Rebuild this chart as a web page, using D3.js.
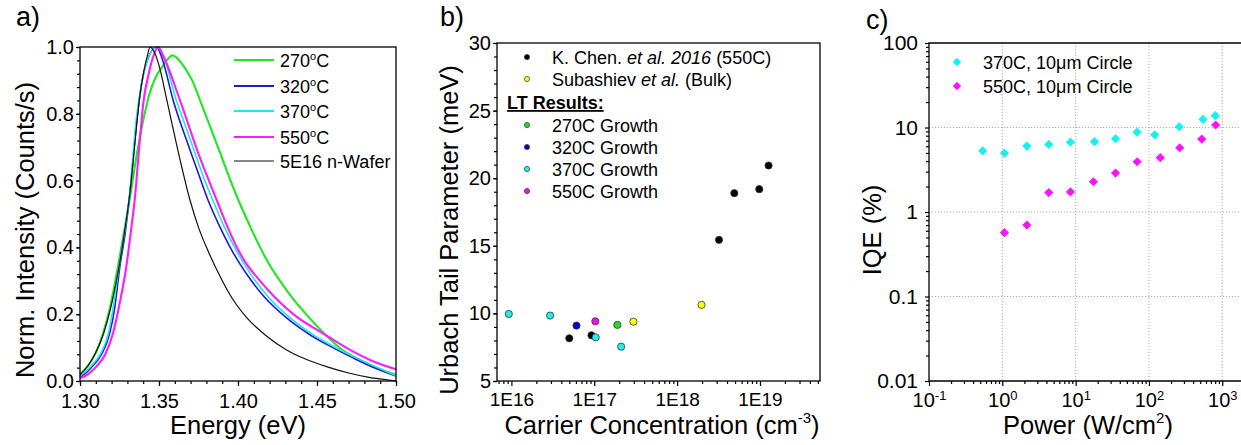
<!DOCTYPE html>
<html>
<head>
<meta charset="utf-8">
<script src="https://cdn.jsdelivr.net/npm/d3@7"></script>
<style>
  body { margin: 0; background: #fff; }
  svg { display: block; font-family: "Liberation Sans", Arial, sans-serif; }
  .frame { fill: none; stroke: #000; stroke-width: 1.3; }
  .axis path { display: none; }
  .axis line { stroke: #000; stroke-width: 1.2; }
  .axis text { fill: #000; font-family: "Liberation Sans", Arial, sans-serif; }
  .grid line { stroke: #999; stroke-width: 0.8; stroke-dasharray: 1.2,1.8; }
</style>
</head>
<body>
<svg id="chart" width="1241" height="445"></svg>
<script>
// ---------- panel a: normalised PL spectra [energy eV, intensity] ----------
var pl270 = [[1.300,0.02],[1.305,0.045],[1.310,0.085],[1.3146,0.143],[1.319,0.22],[1.324,0.342],[1.328,0.45],[1.332,0.56],[1.336,0.68],[1.340,0.78],[1.344,0.86],[1.348,0.91],[1.352,0.94],[1.3585,0.975],[1.366,0.94],[1.371,0.90],[1.376,0.84],[1.3873,0.70],[1.4002,0.542],[1.407,0.47],[1.414,0.40],[1.4203,0.345],[1.428,0.29],[1.435,0.245],[1.444,0.195],[1.455,0.14],[1.466,0.093],[1.480,0.057],[1.490,0.035],[1.500,0.019]];
var pl320 = [[1.300,0.012],[1.304,0.025],[1.308,0.045],[1.3134,0.078],[1.3188,0.143],[1.322,0.22],[1.3252,0.342],[1.3285,0.44],[1.3315,0.56],[1.336,0.78],[1.339,0.89],[1.343,0.965],[1.3485,1.00],[1.352,0.965],[1.359,0.84],[1.369,0.70],[1.3765,0.60],[1.381,0.542],[1.3887,0.46],[1.396,0.392],[1.4013,0.35],[1.4085,0.30],[1.417,0.25],[1.4298,0.1926],[1.445,0.14],[1.460,0.10],[1.4725,0.07],[1.485,0.042],[1.500,0.015]];
var pl370 = [[1.300,0.015],[1.304,0.03],[1.308,0.05],[1.3134,0.085],[1.318,0.143],[1.321,0.22],[1.3247,0.342],[1.328,0.44],[1.3315,0.56],[1.3355,0.78],[1.339,0.89],[1.343,0.965],[1.349,1.00],[1.353,0.97],[1.361,0.84],[1.364,0.80],[1.3715,0.70],[1.379,0.60],[1.384,0.542],[1.3915,0.46],[1.399,0.39],[1.404,0.35],[1.411,0.30],[1.4195,0.25],[1.432,0.1926],[1.447,0.14],[1.462,0.10],[1.4745,0.07],[1.487,0.043],[1.500,0.016]];
var pl550 = [[1.300,0.008],[1.305,0.02],[1.3103,0.043],[1.316,0.08],[1.3209,0.143],[1.325,0.23],[1.3293,0.342],[1.332,0.44],[1.3346,0.542],[1.3375,0.70],[1.340,0.83],[1.3435,0.92],[1.347,0.98],[1.3495,1.00],[1.353,0.97],[1.3633,0.84],[1.375,0.68],[1.3865,0.542],[1.3935,0.46],[1.4002,0.392],[1.4055,0.35],[1.413,0.305],[1.4234,0.25],[1.437,0.1926],[1.453,0.145],[1.4709,0.093],[1.485,0.06],[1.500,0.035]];
var plWafer = [[1.300,0.018],[1.305,0.045],[1.310,0.085],[1.315,0.143],[1.320,0.23],[1.3247,0.342],[1.328,0.44],[1.3315,0.56],[1.3345,0.70],[1.3375,0.84],[1.3405,0.93],[1.343,0.98],[1.3443,1.00],[1.347,0.985],[1.350,0.945],[1.355,0.84],[1.362,0.69],[1.3696,0.542],[1.375,0.46],[1.381,0.39],[1.389,0.31],[1.397,0.2425],[1.4055,0.19],[1.418,0.135],[1.4308,0.093],[1.443,0.065],[1.456,0.043],[1.470,0.024],[1.483,0.011],[1.4935,0.004],[1.500,0.0]];
var aNames = ["270", "320", "370", "550", "5E16 n-Wafer"];
var aColors = ["#1ee81e", "#1a1ae0", "#22e6e6", "#ff1aff", "#111111"];
var aXTicks = [1.30, 1.35, 1.40, 1.45, 1.50];
var aYTicks = [0, 0.2, 0.4, 0.6, 0.8, 1.0];

// ---------- panel b: Urbach tail vs carrier concentration ----------
var chenX = [5.0e16, 9.25e16, 3.2e18, 4.9e18, 9.8e18, 1.27e19];
var chenY = [8.16, 8.38, 15.44, 18.89, 19.19, 20.94];
var subX = [2.97e17, 1.97e18];
var subY = [9.39, 10.63];
var g270X = [1.9e17];           var g270Y = [9.15];
var g320X = [6.1e16];           var g320Y = [9.10];
var g370X = [9.3e15, 2.93e16, 1.04e17, 2.11e17];
var g370Y = [9.96, 9.84, 8.23, 7.54];
var g550X = [1.03e17];          var g550Y = [9.42];
var bXTicks = [1e16, 1e17, 1e18, 1e19];
var bYTicks = [5, 10, 15, 20, 25, 30];

// ---------- panel c: IQE vs power ----------
var iqe370P = [0.54, 1.07, 2.16, 4.3, 8.5, 18.1, 35, 69, 120, 259, 546, 803];
var iqe370V = [5.3, 4.98, 6.03, 6.3, 6.7, 6.8, 7.36, 8.8, 8.2, 10.2, 12.5, 13.8];
var iqe550P = [1.07, 2.16, 4.3, 8.5, 17.5, 35, 69, 143, 263, 525, 813];
var iqe550V = [0.57, 0.70, 1.70, 1.73, 2.28, 2.89, 3.93, 4.39, 5.76, 7.29, 10.7];
var cXTicks = [0.1, 1, 10, 100, 1000];
var cYTicks = [0.01, 0.1, 1, 10, 100];
var cYLabels = ["0.01", "0.1", "1", "10", "100"];

var svg = d3.select("#chart");

function frame(x0, x1, y0, y1) {
  svg.append("rect").attr("class", "frame")
    .attr("x", x0).attr("y", y0).attr("width", x1 - x0).attr("height", y1 - y0);
}

function minorLog(lo, hi) {
  var out = [];
  for (var e = lo; e < hi; e++)
    for (var m = 2; m <= 9; m++) out.push(m * Math.pow(10, e));
  return out;
}

function axisTitleX(x, y, txt, sup) {
  var t = svg.append("text").attr("x", x).attr("y", y).attr("text-anchor", "middle")
    .attr("font-size", 25.5).text(txt);
  if (sup) {
    t.append("tspan").attr("dy", -11).attr("font-size", 15).text(sup);
    t.append("tspan").attr("dy", 11).text(")");
  }
}
function axisTitleY(x, y, txt) {
  svg.append("text").attr("transform", "translate(" + x + "," + y + ") rotate(-90)")
    .attr("text-anchor", "middle").attr("dy", "0.35em").attr("font-size", 25.5).text(txt);
}

// ================= panel a =================
var xA = d3.scaleLinear().domain([1.30, 1.50]).range([80, 396]);
var yA = d3.scaleLinear().domain([0, 1]).range([381, 47]);

svg.append("g").attr("class", "axis").attr("transform", "translate(0,381)")
  .call(d3.axisBottom(xA).tickValues(d3.range(1.30, 1.5001, 0.01)).tickSize(3).tickFormat(""));
svg.append("g").attr("class", "axis").attr("transform", "translate(0,381)")
  .call(d3.axisBottom(xA).tickValues(aXTicks).tickSize(5).tickPadding(8).tickFormat(d3.format(".2f")))
  .selectAll("text").attr("font-size", 20);
svg.append("g").attr("class", "axis").attr("transform", "translate(80,0)")
  .call(d3.axisLeft(yA).tickValues(d3.range(0, 1.0001, 0.04)).tickSize(3).tickFormat(""));
svg.append("g").attr("class", "axis").attr("transform", "translate(80,0)")
  .call(d3.axisLeft(yA).tickValues(aYTicks).tickSize(4).tickPadding(2).tickFormat(d3.format(".1f")))
  .selectAll("text").attr("font-size", 20);

var lineA = d3.line().x(function(d) { return xA(d[0]); }).y(function(d) { return yA(d[1]); })
  .curve(d3.curveMonotoneX);
var aSeries = [pl270, pl320, pl370, pl550, plWafer];
var aWidths = [2.1, 1.6, 1.6, 2.1, 1.2];
aSeries.forEach(function(s, i) {
  svg.append("path").datum(s).attr("d", lineA).attr("fill", "none")
    .attr("stroke", aColors[i]).attr("stroke-width", aWidths[i]);
});
frame(80, 396, 47, 381);

// legend a
var aLegY = [60, 86, 111, 137, 161];
aNames.forEach(function(n, i) {
  svg.append("line").attr("x1", 234).attr("x2", 274).attr("y1", aLegY[i]).attr("y2", aLegY[i])
    .attr("stroke", aColors[i]).attr("stroke-width", i == 4 ? 1.2 : 1.8);
  var t = svg.append("text").attr("x", 280).attr("y", aLegY[i] + 6.5).attr("font-size", 18);
  if (i < 4) {
    t.text(n);
    t.append("tspan").attr("dy", -7).attr("font-size", 11).text("o");
    t.append("tspan").attr("dy", 7).text("C");
  } else t.text(n);
});

axisTitleX(238, 434, "Energy (eV)");
axisTitleY(25, 230, "Norm. Intensity (Counts/s)");
svg.append("text").attr("x", 16).attr("y", 26).attr("font-size", 27).text("a)");

// ================= panel b =================
var xB = d3.scaleLog().domain([6.7e15, 5.3e19]).range([497, 820]);
var yB = d3.scaleLinear().domain([5, 30]).range([381, 43]);

svg.append("g").attr("class", "axis").attr("transform", "translate(0,381)")
  .call(d3.axisBottom(xB).tickValues(minorLog(15, 20).filter(function(v) { return v >= 6.7e15 && v <= 5.3e19; }))
    .tickSize(3).tickFormat(""));
svg.append("g").attr("class", "axis").attr("transform", "translate(0,381)")
  .call(d3.axisBottom(xB).tickValues(bXTicks).tickSize(5).tickPadding(7)
    .tickFormat(function(d) { return "1E" + Math.round(Math.log10(d)); }))
  .selectAll("text").attr("font-size", 19);
svg.append("g").attr("class", "axis").attr("transform", "translate(497,0)")
  .call(d3.axisLeft(yB).tickValues(d3.range(5, 30.001, 1)).tickSize(3).tickFormat(""));
svg.append("g").attr("class", "axis").attr("transform", "translate(497,0)")
  .call(d3.axisLeft(yB).tickValues(bYTicks).tickSize(4).tickPadding(2))
  .selectAll("text").attr("font-size", 20);

var bGroups = [
  { x: chenX, y: chenY, c: "#000000" },
  { x: subX, y: subY, c: "#ffff00" },
  { x: g270X, y: g270Y, c: "#22dd22" },
  { x: g320X, y: g320Y, c: "#0000dd" },
  { x: g370X, y: g370Y, c: "#22eeee" },
  { x: g550X, y: g550Y, c: "#ee11ee" }
];
bGroups.forEach(function(g) {
  svg.append("g").selectAll("circle").data(g.x).enter().append("circle")
    .attr("cx", function(d) { return xB(d); })
    .attr("cy", function(d, i) { return yB(g.y[i]); })
    .attr("r", 3.6).attr("fill", g.c).attr("stroke", "#333").attr("stroke-width", 0.8);
});
frame(497, 820, 43, 381);

// legend b
var bLeg = [
  { y: 57, c: "#000000", parts: [["K. Chen. ", 0], ["et al. 2016", 1], [" (550C)", 0]] },
  { y: 79, c: "#ffff00", parts: [["Subashiev ", 0], ["et al.", 1], [" (Bulk)", 0]] },
  { y: 125, c: "#22dd22", parts: [["270C Growth", 0]] },
  { y: 147, c: "#0000dd", parts: [["320C Growth", 0]] },
  { y: 169, c: "#22eeee", parts: [["370C Growth", 0]] },
  { y: 191, c: "#ee11ee", parts: [["550C Growth", 0]] }
];
bLeg.forEach(function(r) {
  svg.append("circle").attr("cx", 527).attr("cy", r.y).attr("r", 2.6)
    .attr("fill", r.c).attr("stroke", "#333").attr("stroke-width", 0.7);
  var t = svg.append("text").attr("x", 552).attr("y", r.y + 6.5).attr("font-size", 18);
  r.parts.forEach(function(p) {
    t.append("tspan").attr("font-style", p[1] ? "italic" : "normal").text(p[0]);
  });
});
svg.append("text").attr("x", 507).attr("y", 109).attr("font-size", 18).attr("font-weight", "bold")
  .attr("text-decoration", "underline").text("LT Results:");

axisTitleX(662, 434, "Carrier Concentration (cm", "-3");
axisTitleY(449, 230, "Urbach Tail Parameter (meV)");
svg.append("text").attr("x", 440).attr("y", 26).attr("font-size", 27).text("b)");

// ================= panel c =================
var xC = d3.scaleLog().domain([0.1, Math.pow(10, 3.31)]).range([929, 1245]);
var yC = d3.scaleLog().domain([0.01, 100]).range([381, 43]);

svg.append("g").attr("class", "grid").selectAll("line").data(cXTicks.slice(1)).enter().append("line")
  .attr("x1", function(d) { return xC(d); }).attr("x2", function(d) { return xC(d); })
  .attr("y1", 43).attr("y2", 381);
svg.append("g").attr("class", "grid").selectAll("line").data(cYTicks.slice(1, 4)).enter().append("line")
  .attr("y1", function(d) { return yC(d); }).attr("y2", function(d) { return yC(d); })
  .attr("x1", 929).attr("x2", 1245);

svg.append("g").attr("class", "axis").attr("transform", "translate(0,381)")
  .call(d3.axisBottom(xC).tickValues(minorLog(-1, 4).filter(function(v) { return v <= 2000; }))
    .tickSize(3).tickFormat(""));
var cxAxis = svg.append("g").attr("class", "axis").attr("transform", "translate(0,381)")
  .call(d3.axisBottom(xC).tickValues(cXTicks).tickSize(5).tickPadding(7));
cxAxis.selectAll("text").attr("font-size", 20).each(function(d) {
  var t = d3.select(this);
  t.text("10");
  t.append("tspan").attr("dy", "-0.55em").attr("font-size", 13).text(Math.round(Math.log10(d)));
});
svg.append("g").attr("class", "axis").attr("transform", "translate(929,0)")
  .call(d3.axisLeft(yC).tickValues(minorLog(-2, 2)).tickSize(3).tickFormat(""));
svg.append("g").attr("class", "axis").attr("transform", "translate(929,0)")
  .call(d3.axisLeft(yC).tickValues(cYTicks).tickSize(4).tickPadding(7)
    .tickFormat(function(d, i) { return cYLabels[i]; }))
  .selectAll("text").attr("font-size", 21);

function diamond(r) { return "M0," + (-r) + "L" + r + ",0L0," + r + "L" + (-r) + ",0Z"; }
[[iqe370P, iqe370V, "#11f2f2"], [iqe550P, iqe550V, "#ff11ff"]].forEach(function(s) {
  svg.append("g").selectAll("path").data(s[0]).enter().append("path")
    .attr("d", diamond(4.6))
    .attr("transform", function(d, i) { return "translate(" + xC(d) + "," + yC(s[1][i]) + ")"; })
    .attr("fill", s[2]);
});
// frame (right edge runs off the page)
svg.append("path").attr("fill", "none").attr("stroke", "#000").attr("stroke-width", 1.3)
  .attr("d", "M1245,43H929V381H1245");

// legend c
[["370C, 10\u03bcm Circle", "#11f2f2", 62], ["550C, 10\u03bcm Circle", "#ff11ff", 86]].forEach(function(r) {
  svg.append("path").attr("d", diamond(4.2)).attr("transform", "translate(957," + r[2] + ")").attr("fill", r[1]);
  svg.append("text").attr("x", 983).attr("y", r[2] + 6.5).attr("font-size", 18).text(r[0]);
});

axisTitleX(1088, 434, "Power (W/cm", "2");
axisTitleY(872, 230, "IQE (%)");
svg.append("text").attr("x", 866).attr("y", 29).attr("font-size", 27).text("c)");
</script>
</body>
</html>
